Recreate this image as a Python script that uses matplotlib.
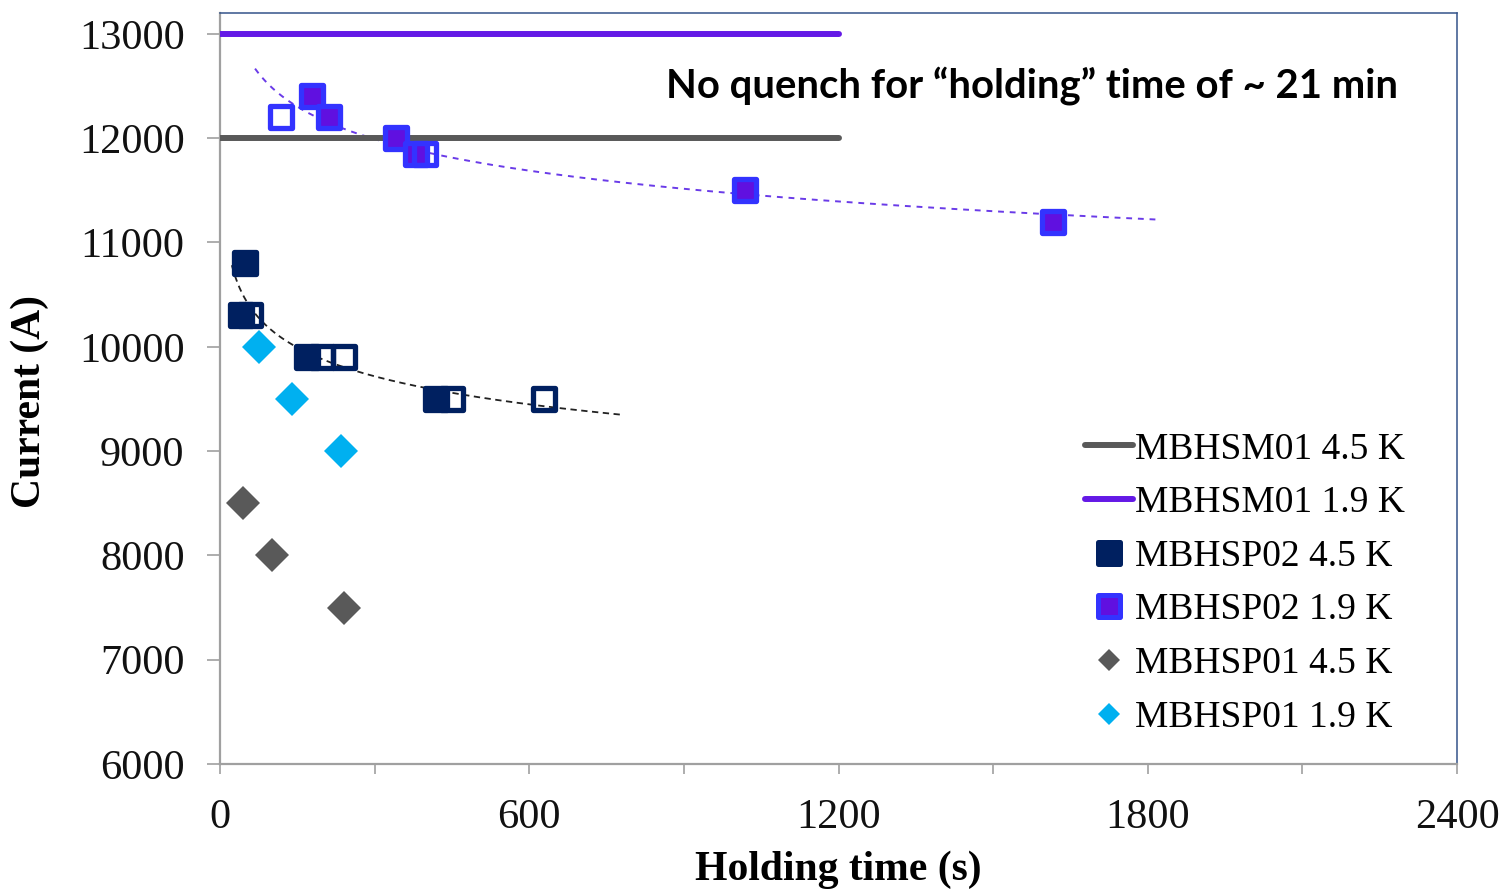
import numpy as np
import matplotlib
matplotlib.use("Agg")
import matplotlib.pyplot as plt
from matplotlib.lines import Line2D
from matplotlib.markers import MarkerStyle
from matplotlib.ticker import MultipleLocator, FuncFormatter

# magnet MBHSM01: no quench over the whole holding period
sm01_t = [0, 1200]
sm01_45_i = [12000, 12000]
sm01_19_i = [13000, 13000]

# MBHSP02 at 4.5 K (filled = quench, open = no quench)
sp02_45_t = [48, 41, 169, 419]
sp02_45_i = [10800, 10300, 9900, 9500]
sp02_45_open_t = [58, 197, 241, 450, 629]
sp02_45_open_i = [10300, 9900, 9900, 9500, 9500]

# MBHSP02 at 1.9 K
sp02_19_t = [178, 212, 342, 380, 1019, 1616]
sp02_19_i = [12400, 12200, 12000, 11850, 11500, 11200]
sp02_19_open_t = [119, 398]
sp02_19_open_i = [12200, 11850]

# MBHSP01
sp01_45_t = [45, 100, 240]
sp01_45_i = [8500, 8000, 7500]
sp01_19_t = [75, 140, 235]
sp01_19_i = [10000, 9500, 9000]

GRAY = '#595959'
PURPLE = '#6419E6'
NAVY = '#002060'
BLUE_EDGE = '#3333FF'
BLUE_FACE = '#6010E0'
CYAN = '#00B0F0'
SERIF = 'Liberation Serif'


def power_fit(t, i, t0, t1):
    # power-law trend line  I = a * t^b
    b, lna = np.polyfit(np.log(t), np.log(i), 1)
    tt = np.geomspace(t0, t1, 200)
    return tt, np.exp(lna) * tt ** b


sq = MarkerStyle('s', joinstyle='round')

fig = plt.figure(figsize=(15.05, 8.93), dpi=100)
ax = fig.add_axes([220 / 1505, 129 / 893, 1237 / 1505, 751 / 893])

# trend lines
t, i = power_fit(sp02_19_t + sp02_19_open_t, sp02_19_i + sp02_19_open_i, 68, 1820)
ax.plot(t, i, color='#6A3BE8', lw=1.4, dashes=(3, 3), zorder=2)
t, i = power_fit(sp02_45_t + sp02_45_open_t, sp02_45_i + sp02_45_open_i, 23, 780)
ax.plot(t, i, color='#222222', lw=1.3, dashes=(3.5, 2.5), zorder=2)

ax.plot(sm01_t, sm01_45_i, color=GRAY, lw=4.3, solid_capstyle='round', zorder=3)
ax.plot(sm01_t, sm01_19_i, color=PURPLE, lw=4.3, solid_capstyle='round', zorder=3)

ax.plot(sp02_45_t, sp02_45_i, ls='none', marker=sq, ms=16.5, mew=3.8,
        mfc=NAVY, mec=NAVY, zorder=4)
ax.plot(sp02_45_open_t, sp02_45_open_i, ls='none', marker=sq, ms=16.5, mew=3.8,
        mfc='none', mec=NAVY, zorder=5)
ax.plot(sp02_19_t, sp02_19_i, ls='none', marker=sq, ms=16.5, mew=3.8,
        mfc=BLUE_FACE, mec=BLUE_EDGE, zorder=4)
ax.plot(sp02_19_open_t, sp02_19_open_i, ls='none', marker=sq, ms=16.5, mew=3.8,
        mfc='none', mec=BLUE_EDGE, zorder=5)
ax.plot(sp01_45_t, sp01_45_i, ls='none', marker='D', ms=17.8, mew=0,
        color=GRAY, zorder=4)
ax.plot(sp01_19_t, sp01_19_i, ls='none', marker='D', ms=17.8, mew=0,
        color=CYAN, zorder=4)

ax.set_xlim(0, 2400)
ax.set_ylim(6000, 13200)
ax.xaxis.set_major_locator(MultipleLocator(600))
ax.xaxis.set_minor_locator(MultipleLocator(300))
ax.yaxis.set_major_locator(MultipleLocator(1000))
ax.yaxis.set_major_formatter(FuncFormatter(lambda v, p: f'{v:.0f}'))

for side in ('left', 'bottom'):
    ax.spines[side].set_color('#A0A0A0')
    ax.spines[side].set_linewidth(1.6)
for side in ('top', 'right'):
    ax.spines[side].set_color('#34548A')
    ax.spines[side].set_linewidth(1.1)

ax.tick_params(axis='y', direction='out', length=9.5, width=1.2, color='#A0A0A0',
               pad=16, labelsize=30.5, labelcolor='#111111')
ax.tick_params(axis='x', which='both', direction='out', length=7.5, width=1.2,
               color='#A0A0A0', pad=17, labelsize=30.5, labelcolor='#111111')
for lab in ax.get_xticklabels() + ax.get_yticklabels():
    lab.set_fontfamily(SERIF)

ax.set_xlabel('Holding time (s)', fontfamily=SERIF, fontweight='bold',
              fontsize=30, va='center')
ax.xaxis.set_label_coords(0.5, (764 - 870) / 751)
ax.set_ylabel('Current (A)', fontfamily=SERIF, fontweight='bold',
              fontsize=30, va='center', ha='center')
ax.yaxis.set_label_coords((30 - 220) / 1237, (764 - 401) / 751)

ax.text(0.6564, 0.9028, 'No quench for \u201cholding\u201d time of ~ 21 min',
        transform=ax.transAxes, ha='center', va='center',
        fontfamily='Lato', fontweight='bold', fontsize=28.8, color='black')

handles = [
    Line2D([], [], color=GRAY, lw=4.3, solid_capstyle='round'),
    Line2D([], [], color=PURPLE, lw=4.3, solid_capstyle='round'),
    Line2D([], [], ls='none', marker=sq, ms=16, mew=3.6, mfc=NAVY, mec=NAVY),
    Line2D([], [], ls='none', marker=sq, ms=16, mew=3.6, mfc=BLUE_FACE, mec=BLUE_EDGE),
    Line2D([], [], ls='none', marker='D', ms=11.7, mew=0, color=GRAY),
    Line2D([], [], ls='none', marker='D', ms=11.7, mew=0, color=CYAN),
]
labels = ['MBHSM01 4.5 K', 'MBHSM01 1.9 K', 'MBHSP02 4.5 K',
          'MBHSP02 1.9 K', 'MBHSP01 4.5 K', 'MBHSP01 1.9 K']
ax.legend(handles, labels, loc='upper left', bbox_to_anchor=(0.6993, 0.442),
          frameon=False, borderpad=0, borderaxespad=0, handlelength=1.28,
          handletextpad=0.05, labelspacing=0.51,
          prop={'family': SERIF, 'size': 27})

fig.savefig('out.png', dpi=100)
